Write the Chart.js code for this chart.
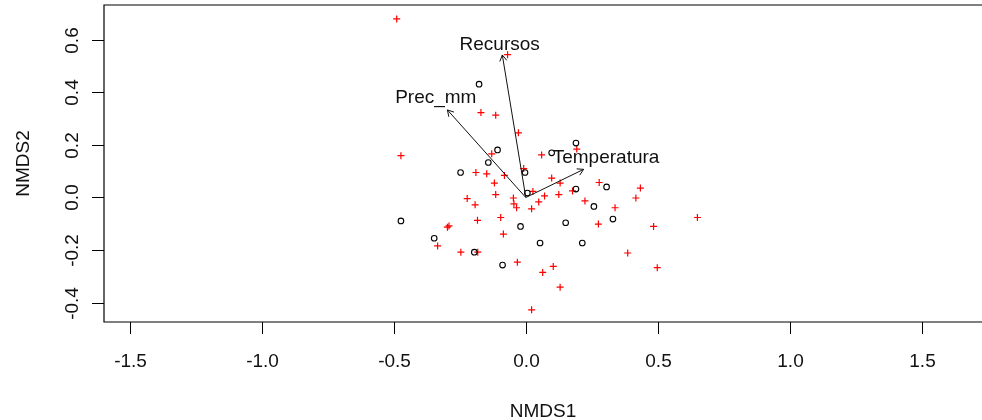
<!DOCTYPE html>
<html>
<head>
<meta charset="utf-8">
<script src="https://cdn.jsdelivr.net/npm/chart.js@4"></script>
<style>
html,body{margin:0;padding:0;background:#fff;}
#wrap{width:982px;height:420px;}
</style>
</head>
<body>
<div id="wrap"><canvas id="c" width="982" height="420"></canvas></div>
<script>
// Sites (black open circles)
const siteX = [-0.177, 0.190, -0.107, 0.098, -0.142, -0.247, -0.003, 0.306, 0.190, 0.006, 0.258, 0.330, -0.473, -0.020, 0.151, -0.347, 0.054, 0.214, -0.195, -0.088];
const siteY = [0.431, 0.207, 0.181, 0.170, 0.133, 0.095, 0.095, 0.040, 0.032, 0.017, -0.034, -0.082, -0.089, -0.110, -0.096, -0.155, -0.173, -0.173, -0.208, -0.257];
// Species (red crosses)
const speciesX = [-0.489, -0.069, -0.170, -0.114, -0.028, -0.129, -0.473, 0.060, 0.193, -0.189, -0.148, -0.081, -0.008, 0.098, -0.119, 0.130, 0.278, 0.434, 0.177, 0.027, -0.114, 0.071, 0.125, -0.222, -0.047, 0.417, 0.224, 0.049, -0.192, -0.045, -0.035, 0.022, 0.338, -0.183, -0.095, 0.275, 0.484, 0.650, -0.297, -0.291, -0.085, -0.334, -0.246, -0.182, 0.386, -0.032, 0.104, 0.064, 0.498, 0.130, 0.022];
const speciesY = [0.679, 0.543, 0.323, 0.313, 0.246, 0.166, 0.159, 0.162, 0.184, 0.095, 0.090, 0.084, 0.110, 0.074, 0.055, 0.055, 0.057, 0.036, 0.025, 0.023, 0.011, 0.006, 0.011, -0.004, -0.002, -0.002, -0.013, -0.017, -0.028, -0.024, -0.039, -0.043, -0.039, -0.087, -0.076, -0.101, -0.110, -0.076, -0.113, -0.108, -0.139, -0.184, -0.208, -0.208, -0.211, -0.246, -0.262, -0.285, -0.267, -0.341, -0.427];
// Environmental vectors
const vectorNames = ["Recursos", "Prec_mm", "Temperatura"];
const vectorX = [-0.089, -0.297, 0.219];
const vectorY = [0.542, 0.333, 0.107];
const vectorLabelX = [-0.099, -0.341, 0.304];
const vectorLabelY = [0.588, 0.386, 0.157];
// Axes
const xTicks = [-1.5, -1.0, -0.5, 0.0, 0.5, 1.0, 1.5];
const xTickLabels = ["-1.5", "-1.0", "-0.5", "0.0", "0.5", "1.0", "1.5"];
const yTicks = [-0.4, -0.2, 0.0, 0.2, 0.4, 0.6];
const yTickLabels = ["-0.4", "-0.2", "0.0", "0.2", "0.4", "0.6"];
const xTitle = "NMDS1";
const yTitle = "NMDS2";

const FONT = '19px "Liberation Sans", Arial, sans-serif';
const TXT = '#111';

const rAxes = {
  id: 'rAxes',
  afterDraw(chart) {
    const ctx = chart.ctx, a = chart.chartArea;
    const xs = chart.scales.x, ys = chart.scales.y;
    ctx.save();
    // box (right side falls outside the picture)
    ctx.strokeStyle = '#000';
    ctx.lineWidth = 1.2;
    ctx.beginPath();
    ctx.moveTo(990, a.top);
    ctx.lineTo(a.left, a.top);
    ctx.lineTo(a.left, a.bottom);
    ctx.lineTo(990, a.bottom);
    ctx.stroke();
    // x ticks
    ctx.lineWidth = 1;
    ctx.font = FONT;
    ctx.fillStyle = TXT;
    ctx.textAlign = 'center';
    ctx.textBaseline = 'alphabetic';
    xTicks.forEach((v, i) => {
      const px = Math.round(xs.getPixelForValue(v)) + 0.5;
      ctx.beginPath();
      ctx.moveTo(px, a.bottom);
      ctx.lineTo(px, a.bottom + 12);
      ctx.stroke();
      ctx.fillText(xTickLabels[i], px, a.bottom + 44.5);
    });
    // y ticks
    yTicks.forEach((v, i) => {
      const py = Math.round(ys.getPixelForValue(v)) + 0.5;
      ctx.beginPath();
      ctx.moveTo(a.left, py);
      ctx.lineTo(a.left - 12, py);
      ctx.stroke();
      ctx.save();
      ctx.translate(a.left - 26.5, py);
      ctx.rotate(-Math.PI / 2);
      ctx.fillText(yTickLabels[i], 0, 0);
      ctx.restore();
    });
    // titles
    ctx.fillText(xTitle, (a.left + 982) / 2, 416.5);
    ctx.save();
    ctx.translate(28.5, (a.top + a.bottom) / 2);
    ctx.rotate(-Math.PI / 2);
    ctx.fillText(yTitle, 0, 0);
    ctx.restore();
    ctx.restore();
  },
  afterDatasetsDraw(chart) {
    const ctx = chart.ctx;
    const xs = chart.scales.x, ys = chart.scales.y;
    const ox = xs.getPixelForValue(0), oy = ys.getPixelForValue(0);
    ctx.save();
    ctx.strokeStyle = '#111';
    ctx.lineWidth = 1;
    vectorNames.forEach((name, i) => {
      const hx = xs.getPixelForValue(vectorX[i]);
      const hy = ys.getPixelForValue(vectorY[i]);
      ctx.beginPath();
      ctx.moveTo(ox, oy);
      ctx.lineTo(hx, hy);
      ctx.stroke();
      const ang = Math.atan2(hy - oy, hx - ox);
      const L = 7, w = Math.PI / 6;
      ctx.beginPath();
      ctx.moveTo(hx - L * Math.cos(ang - w), hy - L * Math.sin(ang - w));
      ctx.lineTo(hx, hy);
      ctx.lineTo(hx - L * Math.cos(ang + w), hy - L * Math.sin(ang + w));
      ctx.stroke();
      ctx.font = FONT;
      ctx.fillStyle = TXT;
      ctx.textAlign = 'center';
      ctx.textBaseline = 'alphabetic';
      const lx = xs.getPixelForValue(vectorLabelX[i]);
      const ly = ys.getPixelForValue(vectorLabelY[i]);
      ctx.fillText(name, lx, ly + 7);
    });
    ctx.restore();
  }
};

const sites = siteX.map((x, i) => ({x, y: siteY[i]}));
const species = speciesX.map((x, i) => ({x, y: speciesY[i]}));

new Chart(document.getElementById('c'), {
  type: 'scatter',
  data: {
    datasets: [
      {
        label: 'sites',
        data: sites,
        pointStyle: 'circle',
        pointRadius: 2.8,
        pointHoverRadius: 2.8,
        borderColor: '#000',
        backgroundColor: 'rgba(0,0,0,0)',
        borderWidth: 1.1,
        clip: false
      },
      {
        label: 'species',
        data: species,
        pointStyle: 'cross',
        pointRadius: 3.5,
        pointHoverRadius: 3.5,
        borderColor: '#ff0000',
        backgroundColor: '#ff0000',
        borderWidth: 1.2,
        clip: false
      }
    ]
  },
  options: {
    responsive: false,
    animation: false,
    devicePixelRatio: 1,
    layout: { autoPadding: false, padding: { left: 104, right: 0, top: 5, bottom: 98 } },
    plugins: { legend: { display: false }, tooltip: { enabled: false } },
    scales: {
      x: { type: 'linear', display: false, min: -1.5977, max: 1.7280 },
      y: { type: 'linear', display: false, min: -0.4734, max: 0.7319 }
    }
  },
  plugins: [rAxes]
});
</script>
</body>
</html>
